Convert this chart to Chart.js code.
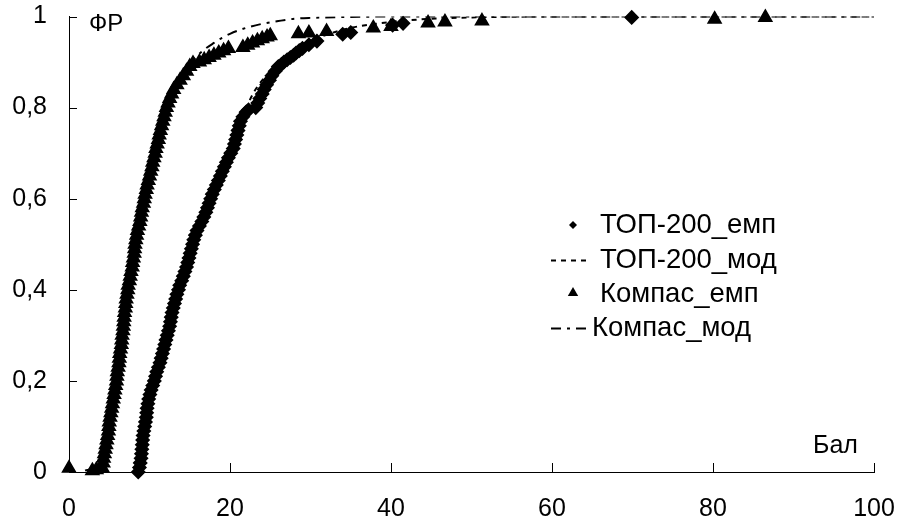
<!DOCTYPE html>
<html>
<head>
<meta charset="utf-8">
<script src="https://cdn.jsdelivr.net/npm/chart.js@4.4.0/dist/chart.umd.min.js"></script>
<style>
html, body { margin: 0; padding: 0; background: #fff; }
#wrap { width: 897px; height: 526px; position: relative; }
</style>
</head>
<body>
<div id="wrap"><canvas id="cdf-chart"></canvas></div>
<script>
// axis ticks
var xTicks = [0, 20, 40, 60, 80, 100];
var yTicks = [0, 0.2, 0.4, 0.6, 0.8, 1];
var yTickLabels = ['0', '0,2', '0,4', '0,6', '0,8', '1'];

var seriesNames = ['ТОП-200_емп', 'ТОП-200_мод', 'Компас_емп', 'Компас_мод'];

// ТОП-200, empirical
var topEmpX = [8.6, 8.75, 8.85, 8.95, 9.0, 9.05, 9.1, 9.15, 9.2, 9.3, 9.4, 9.5, 9.6, 9.65, 9.7, 9.8, 9.9, 10.05, 10.2, 10.4,
    10.6, 10.75, 10.9, 11.1, 11.3, 11.45, 11.6, 11.75, 11.9, 12.05, 12.2, 12.35, 12.5, 12.6, 12.7, 12.8, 12.95, 13.1, 13.25, 13.4,
    13.6, 13.75, 14.0, 14.2, 14.4, 14.6, 14.75, 14.9, 15.05, 15.2, 15.35, 15.5, 15.7, 15.9, 16.2, 16.5, 16.75, 17.0, 17.2, 17.4,
    17.6, 17.8, 18.05, 18.3, 18.55, 18.8, 19.05, 19.3, 19.55, 19.8, 20.1, 20.4, 20.55, 20.7, 20.85, 21.0, 21.15, 21.3, 21.6, 22.0,
    22.3, 23.2, 23.45, 23.7, 24.0, 24.25, 24.55, 24.9, 25.2, 25.6, 26.0, 26.4, 26.7, 27.1, 27.5, 27.9, 28.2, 28.6, 29.0, 29.8,
    30.8, 34.0, 35.0, 40.2, 41.5, 69.9];
var topEmpY = [0, 0.01, 0.02, 0.03, 0.04, 0.05, 0.06, 0.07, 0.08, 0.09, 0.10, 0.11, 0.12, 0.13, 0.14, 0.15, 0.16, 0.17, 0.18, 0.19,
    0.20, 0.21, 0.22, 0.23, 0.24, 0.25, 0.26, 0.27, 0.28, 0.29, 0.30, 0.31, 0.32, 0.33, 0.34, 0.35, 0.36, 0.37, 0.38, 0.39,
    0.40, 0.41, 0.42, 0.43, 0.44, 0.45, 0.46, 0.47, 0.48, 0.49, 0.50, 0.51, 0.52, 0.53, 0.54, 0.55, 0.56, 0.57, 0.58, 0.59,
    0.60, 0.61, 0.62, 0.63, 0.64, 0.65, 0.66, 0.67, 0.68, 0.69, 0.70, 0.71, 0.72, 0.73, 0.74, 0.75, 0.76, 0.77, 0.78, 0.79,
    0.795, 0.80, 0.81, 0.82, 0.83, 0.84, 0.85, 0.86, 0.87, 0.88, 0.89, 0.895, 0.90, 0.905, 0.91, 0.915, 0.92, 0.925, 0.93, 0.938,
    0.946, 0.961, 0.965, 0.981, 0.985, 0.998];

// ТОП-200, model
var topModX = [8.4, 9, 10, 11, 12, 13, 14, 15, 16, 17, 18, 19, 20, 21, 22, 23, 24, 25, 26, 28, 30, 32, 35, 40, 45, 50, 60, 80, 100];
var topModY = [0, 0.04, 0.15, 0.22, 0.285, 0.355, 0.42, 0.48, 0.53, 0.575, 0.62, 0.67, 0.72, 0.765, 0.80, 0.835, 0.86, 0.88, 0.90, 0.925, 0.945, 0.96, 0.975, 0.988, 0.995, 0.998, 1, 1, 1];

// Компас, empirical
var kompEmpX = [0, 2.9, 3.4, 3.9, 4.1, 4.25, 4.3, 4.4, 4.5, 4.6, 4.7, 4.8, 4.9, 4.95, 5.0, 5.1, 5.2, 5.3, 5.4, 5.5,
    5.6, 5.7, 5.8, 5.9, 5.95, 6.0, 6.1, 6.2, 6.25, 6.3, 6.4, 6.5, 6.55, 6.6, 6.7, 6.75, 6.8, 6.85, 6.9, 7.0,
    7.05, 7.1, 7.2, 7.3, 7.35, 7.5, 7.6, 7.7, 7.85, 7.9, 8.0, 8.1, 8.15, 8.2, 8.3, 8.4, 8.5, 8.65, 8.8, 8.9,
    9.0, 9.1, 9.25, 9.35, 9.45, 9.6, 9.7, 9.85, 10.0, 10.15, 10.3, 10.4, 10.55, 10.7, 10.8, 10.95, 11.1, 11.2, 11.35, 11.5,
    11.65, 11.8, 11.95, 12.1, 12.3, 12.5, 12.75, 13.0, 13.4, 13.8, 14.2, 14.6, 15.0, 15.4,
    16.2, 16.8, 17.4, 18.0, 18.6, 19.2, 19.8, 21.6, 22.2, 22.8, 23.4, 24.0, 24.6, 25.0,
    28.5, 29.8, 32.0, 37.8, 40.0, 44.6, 46.7, 51.3, 80.2, 86.5];
var kompEmpY = [0.008, 0.003, 0.005, 0.008, 0.01, 0.02, 0.03, 0.04, 0.05, 0.06, 0.07, 0.08, 0.09, 0.10, 0.11, 0.12, 0.13, 0.14, 0.15, 0.16,
    0.17, 0.18, 0.19, 0.20, 0.21, 0.22, 0.23, 0.24, 0.25, 0.26, 0.27, 0.28, 0.29, 0.30, 0.31, 0.32, 0.33, 0.34, 0.35, 0.36,
    0.37, 0.38, 0.39, 0.40, 0.41, 0.42, 0.43, 0.44, 0.45, 0.46, 0.47, 0.48, 0.49, 0.50, 0.51, 0.52, 0.53, 0.54, 0.55, 0.56,
    0.57, 0.58, 0.59, 0.60, 0.61, 0.62, 0.63, 0.64, 0.65, 0.66, 0.67, 0.68, 0.69, 0.70, 0.71, 0.72, 0.73, 0.74, 0.75, 0.76,
    0.77, 0.78, 0.79, 0.80, 0.81, 0.82, 0.83, 0.84, 0.85, 0.86, 0.87, 0.88, 0.89, 0.897,
    0.90, 0.905, 0.91, 0.915, 0.92, 0.925, 0.93, 0.932, 0.937, 0.942, 0.947, 0.951, 0.955, 0.958,
    0.962, 0.964, 0.967, 0.975, 0.978, 0.986, 0.988, 0.99, 0.994, 0.998];

// Компас, model
var kompModX = [2, 3, 4, 5, 6, 7, 8, 9, 10, 11, 12, 13, 14, 15, 16, 17, 18, 19, 20, 22, 24, 26, 28, 30, 35, 40, 60, 80, 100];
var kompModY = [0.003, 0.01, 0.04, 0.11, 0.21, 0.35, 0.47, 0.58, 0.66, 0.73, 0.79, 0.835, 0.87, 0.895, 0.915, 0.93, 0.942, 0.953, 0.962, 0.975, 0.984, 0.99, 0.995, 0.997, 0.999, 1, 1, 1, 1];

var FONT = '"Liberation Sans", Arial, sans-serif';
Chart.defaults.font.family = FONT;
Chart.defaults.color = '#000';

function toPoints(xs, ys) {
    return xs.map(function(x, i) { return { x: x, y: ys[i] }; });
}

function diamond(ctx, x, y, r) {
    ctx.beginPath();
    ctx.moveTo(x, y - r); ctx.lineTo(x + r, y); ctx.lineTo(x, y + r); ctx.lineTo(x - r, y);
    ctx.closePath(); ctx.fill();
}

function triangle(ctx, x, y, r) {
    ctx.beginPath();
    ctx.moveTo(x, y - r); ctx.lineTo(x + r * 0.866, y + r * 0.5); ctx.lineTo(x - r * 0.866, y + r * 0.5);
    ctx.closePath(); ctx.fill();
}

// inside ticks, axis captions, legend
var decorations = {
    id: 'decorations',
    afterDraw: function(chart) {
        var ctx = chart.ctx;
        var sx = chart.scales.x, sy = chart.scales.y;
        ctx.save();
        ctx.strokeStyle = '#000';
        ctx.lineWidth = 1;
        ctx.beginPath();
        sx.ticks.forEach(function(t) {
            if (t.value === 0) return;
            var px = Math.round(sx.getPixelForValue(t.value)) + 0.5;
            ctx.moveTo(px, sy.bottom); ctx.lineTo(px, sy.bottom - 9);
        });
        sy.ticks.forEach(function(t) {
            if (t.value === 0) return;
            var py = Math.round(sy.getPixelForValue(t.value)) + 0.5;
            ctx.moveTo(sx.left, py); ctx.lineTo(sx.left + 8, py);
        });
        ctx.stroke();

        ctx.fillStyle = '#000';
        ctx.textBaseline = 'middle';
        ctx.textAlign = 'left';
        ctx.font = '24px ' + FONT;
        ctx.fillText('ФР', sx.left + 20, sy.top + 8);
        ctx.font = '25px ' + FONT;
        ctx.fillText('Бал', sx.right - 61, sy.bottom - 26);

        // legend
        var rows = [225, 260, 294, 328];
        var textX = [600, 600, 600, 592];
        chart.data.datasets.forEach(function(ds, i) {
            var y = rows[i];
            ctx.fillStyle = '#000';
            ctx.strokeStyle = '#000';
            if (ds.showLine) {
                ctx.lineWidth = ds.borderWidth;
                ctx.setLineDash(ds.borderDash);
                ctx.beginPath();
                ctx.moveTo(551, y + 0.5); ctx.lineTo(589, y + 0.5);
                ctx.stroke();
                ctx.setLineDash([]);
            } else if (ds.pointStyle === 'rectRot') {
                diamond(ctx, 573, y, 4);
            } else {
                triangle(ctx, 573, y - 1, 6);
            }
            ctx.font = '27.5px ' + FONT;
            ctx.fillText(ds.label, textX[i], y);
        });
        ctx.restore();
    }
};

var ctx = document.getElementById('cdf-chart');

new Chart(ctx, {
    type: 'scatter',
    data: {
        datasets: [{
            label: seriesNames[0],
            data: toPoints(topEmpX, topEmpY),
            showLine: false,
            pointStyle: 'rectRot',
            pointRadius: 6.5,
            backgroundColor: '#000',
            borderColor: '#000',
            borderWidth: 1.5,
            clip: false,
            order: 0
        }, {
            label: seriesNames[1],
            data: toPoints(topModX, topModY),
            showLine: true,
            pointRadius: 0,
            borderColor: '#000',
            borderWidth: 2,
            borderDash: [5, 5],
            cubicInterpolationMode: 'monotone',
            fill: false,
            order: 1
        }, {
            label: seriesNames[2],
            data: toPoints(kompEmpX, kompEmpY),
            showLine: false,
            pointStyle: 'triangle',
            pointRadius: 7.5,
            backgroundColor: '#000',
            borderColor: '#000',
            borderWidth: 1.5,
            clip: false,
            order: 0
        }, {
            label: seriesNames[3],
            data: toPoints(kompModX, kompModY),
            showLine: true,
            pointRadius: 0,
            borderColor: '#000',
            borderWidth: 2,
            borderDash: [10, 6, 3, 6],
            cubicInterpolationMode: 'monotone',
            fill: false,
            order: 1
        }]
    },
    options: {
        responsive: true,
        maintainAspectRatio: false,
        animation: false,
        layout: { padding: { top: 16.5, right: 23, left: 0, bottom: 0 } },
        plugins: {
            legend: { display: false },
            tooltip: { enabled: false }
        },
        scales: {
            x: {
                type: 'linear',
                min: 0,
                max: 100,
                afterBuildTicks: function(scale) {
                    scale.ticks = xTicks.map(function(v) { return { value: v }; });
                },
                afterFit: function(scale) {
                    scale.height = 54;
                    scale.paddingLeft = 0;
                    scale.paddingRight = 0;
                },
                ticks: { font: { size: 25 }, padding: 22, maxRotation: 0, color: '#000' },
                grid: { display: true, drawOnChartArea: false, drawTicks: false },
                border: { display: true, color: '#000', width: 1 }
            },
            y: {
                type: 'linear',
                min: 0,
                max: 1,
                afterBuildTicks: function(scale) {
                    scale.ticks = yTicks.map(function(v) { return { value: v }; });
                },
                afterFit: function(scale) {
                    scale.width = 69;
                    scale.paddingTop = 0;
                    scale.paddingBottom = 0;
                },
                ticks: {
                    font: { size: 25 },
                    padding: 22,
                    color: '#000',
                    callback: function(value, index) { return yTickLabels[index]; }
                },
                grid: { display: true, drawOnChartArea: false, drawTicks: false },
                border: { display: true, color: '#000', width: 1 }
            }
        }
    },
    plugins: [decorations]
});
</script>
</body>
</html>
